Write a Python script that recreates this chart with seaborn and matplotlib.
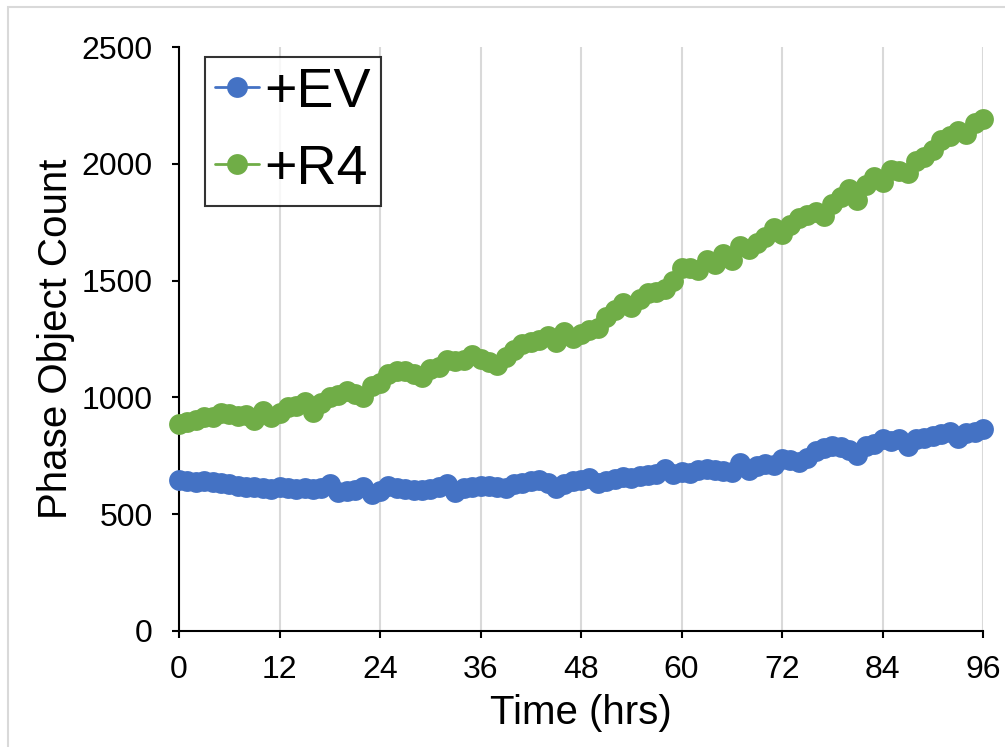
import numpy as np
import pandas as pd
import matplotlib
matplotlib.use("Agg")
import matplotlib.pyplot as plt
import seaborn as sns
from matplotlib.patches import Rectangle

# === Data (hourly scans, 0-96 h) ===
hours = list(range(0, 97))

ev_counts = [645, 640, 638, 640, 636, 632, 628, 620, 618, 615,
             612, 610, 615, 612, 608, 612, 610, 614, 630, 596,
             598, 605, 615, 585, 600, 622, 612, 606, 604, 605,
             610, 618, 628, 595, 612, 615, 620, 622, 618, 612,
             630, 632, 640, 648, 635, 612, 630, 640, 648, 655,
             635, 640, 650, 658, 655, 665, 668, 672, 695, 670,
             682, 675, 688, 695, 690, 685, 682, 720, 688, 705,
             715, 712, 735, 730, 722, 740, 770, 785, 790, 788,
             775, 752, 792, 800, 820, 815, 822, 790, 820, 828,
             835, 842, 850, 825, 848, 852, 865]

r4_counts = [885, 895, 905, 915, 918, 935, 930, 922, 925, 902,
             943, 918, 935, 957, 965, 979, 938, 975, 1000, 1010,
             1029, 1015, 1000, 1050, 1060, 1100, 1114, 1112, 1100, 1088,
             1120, 1128, 1160, 1155, 1158, 1182, 1165, 1150, 1140, 1175,
             1205, 1228, 1238, 1245, 1262, 1238, 1278, 1255, 1272, 1290,
             1299, 1345, 1375, 1406, 1388, 1420, 1445, 1452, 1462, 1500,
             1552, 1556, 1545, 1590, 1572, 1612, 1588, 1650, 1635, 1660,
             1685, 1725, 1700, 1740, 1768, 1780, 1792, 1778, 1830, 1860,
             1890, 1845, 1910, 1945, 1922, 1975, 1968, 1962, 2010, 2028,
             2060, 2102, 2120, 2140, 2128, 2175, 2190]

series_names = ["+EV", "+R4"]
series_colors = {"+EV": "#4472C4", "+R4": "#70AD47"}
x_ticks = [0, 12, 24, 36, 48, 60, 72, 84, 96]
y_ticks = [0, 500, 1000, 1500, 2000, 2500]

df = pd.DataFrame({
    "Time": hours * 2,
    "Count": ev_counts + r4_counts,
    "Group": ["+EV"] * len(hours) + ["+R4"] * len(hours),
})

# === Style ===
sns.set_style("white")
plt.rcParams["font.family"] = ["Liberation Sans", "DejaVu Sans"]
for key in ["text.color", "axes.labelcolor", "xtick.color", "ytick.color"]:
    plt.rcParams[key] = "black"

fig = plt.figure(figsize=(10.05, 7.47), dpi=100)
ax = fig.add_axes([179 / 1005, 116 / 747, 804 / 1005, 584 / 747])

# light gray chart-area border
fig.patches.append(Rectangle((8 / 1005, -0.05), 1.1, (747 - 7) / 747 + 0.05,
                             transform=fig.transFigure, fill=False,
                             edgecolor="#D9D9D9", linewidth=1.5))

sns.lineplot(data=df, x="Time", y="Count", hue="Group", hue_order=series_names,
             palette=series_colors, marker="o", markersize=15,
             markeredgewidth=0, linewidth=2, clip_on=False, ax=ax, zorder=3)

# vertical gridlines only
ax.set_xticks(x_ticks)
ax.set_yticks(y_ticks)
ax.xaxis.grid(True, color="#D9D9D9", linewidth=1.5)
ax.yaxis.grid(False)
ax.set_axisbelow(True)
ax.set_xlim(0, 96)
ax.set_ylim(0, 2500)

for side in ["top", "right"]:
    ax.spines[side].set_visible(False)
for side in ["left", "bottom"]:
    ax.spines[side].set_color("black")
    ax.spines[side].set_linewidth(1.5)

ax.tick_params(axis="both", direction="out", length=5, width=1.5,
               color="black", labelsize=23, labelcolor="black")
ax.tick_params(axis="both", which="both", bottom=True, left=True)
ax.tick_params(axis="x", pad=12)
ax.tick_params(axis="y", pad=14)

ax.set_xlabel("Time (hrs)", fontsize=29, labelpad=7)
ax.set_ylabel("Phase Object Count", fontsize=29, labelpad=5)

leg = ax.legend(loc="upper left", bbox_to_anchor=(0.032, 0.983),
                borderaxespad=0, fontsize=40, frameon=True, fancybox=False,
                handlelength=0.8, handletextpad=0.1, labelspacing=0.45,
                borderpad=0.18)
leg.get_frame().set_edgecolor("black")
leg.get_frame().set_linewidth(1.5)

fig.savefig("out.png", dpi=100)
